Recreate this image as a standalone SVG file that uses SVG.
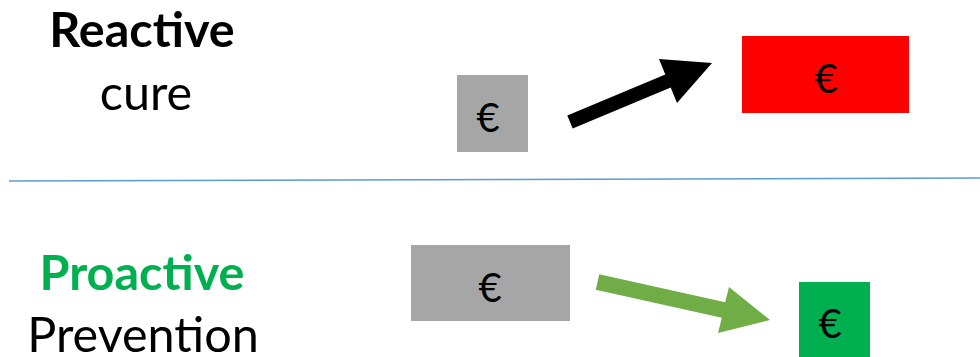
<svg xmlns="http://www.w3.org/2000/svg" width="980" height="357" viewBox="0 0 980 357">
<style>
.t{font-family:Lato,"Noto Sans",sans-serif;text-anchor:middle;font-size:48.5px}
.b{font-weight:bold}
.e{font-family:Lato,"Noto Sans",sans-serif;font-size:40px;text-anchor:middle;fill:#000}
</style>
<rect width="980" height="357" fill="#fff"/>
<g id="labels">
<text class="t b" x="142" y="47">Reactive</text>
<text class="t" x="146" y="110">cure</text>
<text class="t b" x="142" y="290" fill="#00b050">Proactive</text>
<text class="t" x="143" y="352">Prevention</text>
</g>
<g id="divider"><line x1="9" y1="181" x2="980" y2="178" stroke="#5b9bd5" stroke-width="1.5"/></g>
<g id="node-top-start"><rect x="457" y="75" width="71" height="77" fill="#a6a6a6"/><text class="e" x="488" y="132">€</text></g>
<g id="node-top-end"><rect x="742" y="36" width="167" height="77" fill="#ff0000"/><text class="e" x="826" y="93">€</text></g>
<g id="node-bottom-start"><rect x="411" y="245" width="159" height="76" fill="#a6a6a6"/><text class="e" x="490" y="302">€</text></g>
<g id="node-bottom-end"><rect x="799" y="282" width="71" height="77" fill="#00b050"/><text class="e" x="830" y="338">€</text></g>
<g id="connectors">
<polygon points="567.3,115.5 665.3,74.5 659,59 712,63 677,103 670.7,87.5 572.7,128.5" fill="#000"/>
<polygon points="599.2,274.2 725.2,302.2 729,287 770,320 718,333 721.8,317.8 595.8,289.8" fill="#70ad47"/>
</g>
</svg>
